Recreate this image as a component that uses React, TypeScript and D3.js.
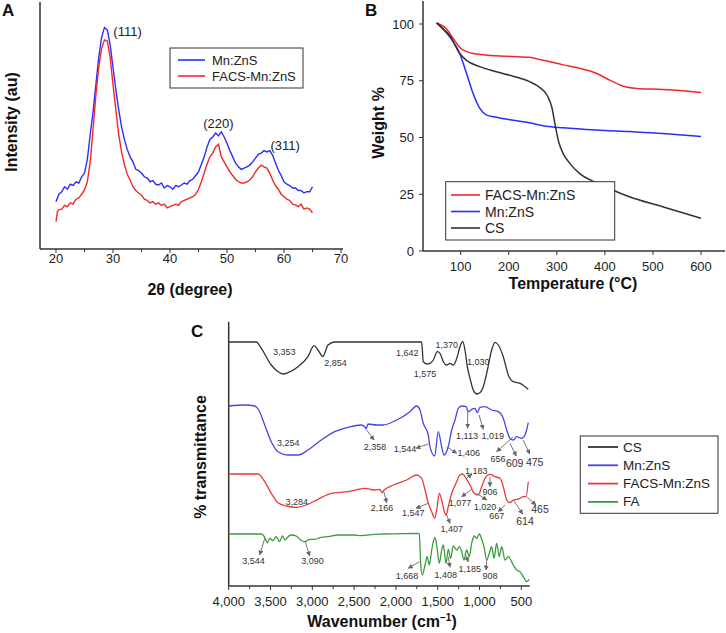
import React from 'react';
import * as d3 from 'd3';

type P = [number, number];

// ---------- Panel A : XRD ----------
const xrdTicks = [20, 30, 40, 50, 60, 70];
const xrdMinorTicks = [25, 35, 45, 55, 65];
const xrdMnZnS: P[] = [
  [20, 19], [20.5, 22], [21, 23], [21.5, 25], [22, 24], [22.5, 26], [23, 25.5], [23.5, 27], [24, 26.5], [24.5, 29],
  [25, 30.5], [25.5, 36], [26, 46], [26.5, 55], [27, 66], [27.5, 77], [28, 85], [28.5, 89], [29, 88], [29.5, 82],
  [30, 73], [30.5, 64], [31, 56], [31.5, 49], [32, 44], [32.5, 40], [33, 37], [33.5, 35], [34, 32], [34.5, 31.5],
  [35, 30.5], [35.5, 29], [36, 28.5], [36.5, 27], [37, 27.5], [37.5, 26], [38, 25.7], [38.5, 26.5], [39, 24.5], [39.5, 25.5],
  [40, 25], [40.5, 24], [41, 25.5], [41.5, 25], [42, 25.7], [42.5, 26.5], [43, 26], [43.5, 27.5], [44, 28], [44.5, 29.5],
  [45, 31], [45.5, 34], [46, 37], [46.5, 41], [47, 44], [47.5, 45], [48, 46.6], [48.5, 45.5], [49, 47], [49.5, 45],
  [50, 42.5], [50.5, 39.5], [51, 37], [51.5, 34.5], [52, 33], [52.5, 32], [53, 32.5], [53.5, 33], [54, 33.7], [54.5, 35],
  [55, 36.5], [55.5, 38], [56, 38.5], [56.5, 39.5], [57, 39], [57.5, 39.5], [58, 37.7], [58.5, 34.5], [59, 31.7], [59.5, 29.5],
  [60, 27], [60.5, 26], [61, 25.5], [61.5, 24.5], [62, 24.5], [62.5, 23.5], [63, 23.5], [63.5, 22.5], [64, 23], [64.5, 23], [65, 25],
];
const xrdFACS: P[] = [
  [20, 11], [20.25, 15], [20.5, 15.7], [21, 16], [21.5, 17.5], [22, 17], [22.5, 18.5], [23, 18], [23.5, 20], [24, 20.5], [24.5, 22],
  [25, 23.7], [25.5, 27], [26, 35], [26.5, 48], [27, 62], [27.5, 73], [28, 80.5], [28.5, 84], [29, 83.5], [29.5, 77],
  [30, 66], [30.5, 56], [31, 46], [31.5, 39], [32, 34], [32.5, 30], [33, 27.7], [33.5, 25], [34, 23.5], [34.5, 22.5],
  [35, 21.7], [35.5, 20], [36, 19.5], [36.5, 18.5], [37, 19], [37.5, 18], [38, 18.5], [38.5, 17.5], [39, 18], [39.5, 16.5],
  [40, 17], [40.5, 17.5], [41, 18], [41.5, 17.5], [42, 19], [42.5, 19.5], [43, 20], [43.5, 20.5], [44, 21], [44.5, 22],
  [45, 24], [45.5, 27], [46, 30.5], [46.5, 34], [47, 37], [47.5, 38.5], [48, 41], [48.5, 42], [49, 37], [49.5, 35],
  [50, 33], [50.5, 31], [51, 29.5], [51.5, 28], [52, 27], [52.5, 26.5], [53, 26.5], [53.5, 27], [54, 27.7], [54.5, 29],
  [55, 31], [55.5, 32.5], [56, 33.7], [56.5, 33], [57, 32.5], [57.5, 30.5], [58, 27.7], [58.5, 25.5], [59, 24], [59.5, 22],
  [60, 21], [60.5, 20], [61, 19.5], [61.5, 18], [62, 17.7], [62.5, 17], [63, 18], [63.5, 16], [64, 16.5], [64.5, 16], [65, 14.5],
];
const xrdPeaks: { label: string; x: number; y: number }[] = [
  { label: '(111)', x: 32.55, y: 87.3 },
  { label: '(220)', x: 48.5, y: 50.6 },
  { label: '(311)', x: 60.2, y: 41.4 },
];
const xrdLegend = ['Mn:ZnS', 'FACS-Mn:ZnS'];

// ---------- Panel B : TGA ----------
const tgaXTicks = [100, 200, 300, 400, 500, 600];
const tgaYTicks = [0, 25, 50, 75, 100];
const tgaFACS: P[] = [
  [50, 100.5], [60, 99.5], [70, 98], [84, 93.7], [100, 89.3], [126, 87], [174, 86], [243, 85.3], [264, 84.4], [285, 83.4],
  [313, 82], [347, 80.5], [382, 78.3], [410, 75.3], [437, 72.7], [472, 71.5], [520, 71.2], [562, 70.6], [600, 69.8],
];
const tgaMnZnS: P[] = [
  [50, 100.5], [60, 98.5], [77, 94.4], [98, 87], [112, 78.3], [125.6, 69.5], [139.5, 62.9], [153, 60], [174, 58.9],
  [243, 56.5], [278, 55], [313, 54.3], [382, 53.3], [451, 52.6], [520, 51.8], [600, 50.4],
];
const tgaCS: P[] = [
  [50, 100.5], [60, 98.5], [77, 95], [98, 87], [112, 84], [139.5, 81.2], [174, 79], [209, 77], [243, 74.6], [264, 72.1],
  [280, 68.5], [290, 63], [297, 55], [304, 48], [313, 43], [327, 38.6], [347, 34.2], [382, 30.1], [416, 26.9], [451, 23.9],
  [520, 19.5], [600, 14.4],
];
const tgaLegend = ['FACS-Mn:ZnS', 'Mn:ZnS', 'CS'];

// ---------- Panel C : FTIR ----------
const ftirMajorTicks = [4000, 3500, 3000, 2500, 2000, 1500, 1000, 500];
const ftirMinorTicks = [3750, 3250, 2750, 2250, 1750, 1250, 750];
const ftirCS: P[] = [
  [4000, 244], [3670, 244], [3610, 237.7], [3491, 221], [3410, 214.3], [3351, 212], [3291, 213.3], [3171, 219.3], [3052, 229.3],
  [2980, 240.3], [2932, 236], [2872, 229.3], [2852, 232.7], [2812, 241], [2732, 244], [1692, 244], [1673, 224.3], [1632, 222],
  [1593, 222.7], [1553, 226], [1505, 234.3], [1473, 232.7], [1433, 224.3], [1393, 221], [1353, 222.7], [1314, 221], [1266, 229.3],
  [1234, 239.3], [1201, 244.3], [1174, 236], [1146, 219.3], [1114, 207.7], [1075, 196], [1034, 192], [994, 193.3], [955, 199.3],
  [914, 212.7], [855, 236], [815, 243.7], [776, 241], [716, 229.3], [656, 211], [596, 204.3], [516, 202.7], [417, 196.7],
];
const ftirMnZnS: P[] = [
  [4000, 180], [3800, 181], [3689, 180], [3641, 176], [3562, 159.3], [3482, 142.7], [3410, 134.3], [3291, 131], [3171, 131],
  [3052, 136], [2893, 146], [2732, 154.3], [2573, 158.7], [2414, 161], [2373, 159.3], [2358, 157], [2334, 162], [2230, 161],
  [2155, 161], [1991, 166], [1832, 174.3], [1752, 180], [1712, 176], [1673, 162.7], [1613, 151], [1593, 139.3], [1537, 130],
  [1493, 154.3], [1453, 139.3], [1425, 131], [1374, 139.3], [1333, 156], [1293, 166], [1254, 177.7], [1213, 180], [1162, 179.3],
  [1134, 174.3], [1094, 176.7], [1054, 177.7], [1027, 173.3], [994, 178.7], [935, 179.3], [855, 176], [776, 174.3], [716, 167.7],
  [675, 156], [636, 147.7], [596, 146], [556, 149.3], [496, 147.7], [456, 151], [417, 163.3],
];
const ftirFACS: P[] = [
  [4000, 112], [3650, 112], [3569, 104.3], [3491, 92.7], [3410, 83.3], [3311, 80], [3192, 78.7], [3072, 81], [2932, 86.7],
  [2773, 92.7], [2573, 94.3], [2373, 97.7], [2254, 96], [2190, 96.7], [2166, 93.5], [2140, 96], [2031, 101], [1871, 106],
  [1752, 111], [1692, 107.7], [1652, 96], [1613, 82.7], [1572, 74.3], [1537, 67.7], [1512, 76], [1481, 92.7], [1453, 86],
  [1421, 74.3], [1401, 71], [1374, 79.3], [1333, 92.7], [1282, 102.7], [1234, 111], [1201, 112], [1162, 107.7], [1114, 101],
  [1063, 92.7], [1015, 91], [974, 99.3], [935, 107.7], [875, 111.7], [815, 109.3], [755, 107.7], [716, 99.3], [675, 86],
  [636, 83.3], [596, 86], [556, 86.7], [516, 87.7], [477, 89.3], [444, 89.3], [417, 104.3],
];
const ftirFA: P[] = [
  [4000, 52], [3610, 52], [3569, 48.7], [3538, 43.3], [3510, 47.7], [3470, 45.3], [3431, 49.3], [3390, 44.3], [3359, 50],
  [3323, 46], [3291, 49.3], [3251, 51], [3192, 50], [3139, 46], [3091, 44.3], [3031, 46.7], [2971, 46.7], [2892, 48.7],
  [2812, 49.3], [2693, 51], [2493, 51], [2414, 50.3], [2254, 51.7], [2155, 52], [1720, 52.7], [1704, 22.7], [1685, 11],
  [1652, 21], [1625, 29.3], [1601, 21], [1572, 36], [1553, 44.3], [1533, 48.7], [1505, 36], [1481, 22.7], [1453, 36],
  [1433, 41], [1401, 22.7], [1374, 36.7], [1345, 27.7], [1314, 40], [1273, 36], [1242, 39.3], [1213, 34.3], [1186, 26],
  [1154, 36], [1122, 29.3], [1094, 42.7], [1063, 50], [1034, 47.7], [1003, 52], [974, 46.7], [947, 39.3], [914, 26],
  [883, 32.7], [855, 39.3], [827, 27.7], [795, 42.7], [764, 29.3], [735, 39.3], [695, 26], [656, 29.3], [596, 21],
  [556, 16], [516, 14.3], [477, 9.3], [436, 4.3], [405, 6.7],
];
const ftirLegend = ['CS', 'Mn:ZnS', 'FACS-Mn:ZnS', 'FA'];

// annotations: label, label position (wavenumber, value), optional arrow from -> to
type Ann = { t: string; x: number; y: number; big?: boolean; a?: [number, number, number, number] };
const ftirAnnotations: Ann[] = [
  { t: '3,353', x: 3335, y: 233.7 },
  { t: '2,854', x: 2723, y: 223.3 },
  { t: '1,642', x: 1864, y: 233.3 },
  { t: '1,575', x: 1652, y: 212 },
  { t: '1,370', x: 1393, y: 241 },
  { t: '1,030', x: 1015, y: 224.3 },
  { t: '3,254', x: 3287, y: 143.3 },
  { t: '2,358', x: 2250, y: 139.3, a: [2350, 156, 2262, 146] },
  { t: '1,544', x: 1891, y: 136.7, a: [1613, 142, 1760, 137.7] },
  { t: '1,406', x: 1130, y: 132.7, a: [1393, 139.3, 1273, 132.7] },
  { t: '1,113', x: 1150, y: 150, a: [1142, 174.3, 1142, 157.7] },
  { t: '1,019', x: 843, y: 150, a: [1006, 171, 955, 156.7] },
  { t: '656', x: 780, y: 126.7, a: [596, 149.3, 795, 134.3] },
  { t: '609', x: 580, y: 123.3, big: true, a: [636, 142.7, 560, 130] },
  { t: '475', x: 340, y: 124.3, big: true, a: [477, 146, 400, 132] },
  { t: '3,284', x: 3187, y: 84.3 },
  { t: '2,166', x: 2167, y: 78, a: [2151, 96, 2110, 83.3] },
  { t: '1,547', x: 1792, y: 72.7, a: [1613, 82.7, 1760, 77.7] },
  { t: '1,407', x: 1333, y: 56.7, a: [1393, 71, 1353, 62.7] },
  { t: '1,183', x: 1039, y: 115.3, a: [1162, 107, 1094, 112] },
  { t: '906', x: 875, y: 94.3, a: [875, 109.3, 875, 99.3] },
  { t: '1,077', x: 1234, y: 82.7, a: [1094, 96.7, 1213, 89.3] },
  { t: '1,020', x: 935, y: 78.7, a: [1034, 92.7, 914, 86] },
  { t: '667', x: 795, y: 70.3, a: [695, 81, 776, 74.3] },
  { t: '614', x: 456, y: 65.3, big: true, a: [596, 86, 484, 72] },
  { t: '465', x: 277, y: 76.7, big: true, a: [436, 89.3, 325, 81] },
  { t: '3,544', x: 3703, y: 25, a: [3569, 47.7, 3629, 31] },
  { t: '3,090', x: 2998, y: 25, a: [3084, 44.3, 3031, 30] },
  { t: '1,668', x: 1868, y: 10, a: [1720, 24.3, 1852, 17.7] },
  { t: '1,408', x: 1403, y: 11, a: [1374, 29.3, 1353, 18.7] },
  { t: '1,185', x: 1118, y: 16.7, a: [1174, 32.7, 1134, 24.3] },
  { t: '908', x: 875, y: 10, a: [914, 26, 922, 16] },
];

const FONT = '"Liberation Sans", Arial, Helvetica, sans-serif';
const AX = '#333';
const BLUE = '#2b2bff';
const RED = '#f02828';
const BLACK = '#333333';
const GREEN = '#3c9a3c';
const C_BLUE = '#4646e6';
const C_RED = '#e83a3a';

export default function App() {
  // Panel A scales
  const xA = d3.scaleLinear().domain([20, 70]).range([56, 341]);
  const yA = d3.scaleLinear().domain([0, 100]).range([249, 0]);
  const lineA = d3.line<P>().x((d) => xA(d[0])).y((d) => yA(d[1])).curve(d3.curveLinear);

  // Panel B scales
  const xB = d3.scaleLinear().domain([100, 600]).range([460.7, 701]);
  const yB = d3.scaleLinear().domain([0, 100]).range([251, 24]);
  const lineB = d3.line<P>().x((d) => xB(d[0])).y((d) => yB(d[1])).curve(d3.curveMonotoneX);

  // Panel C scales
  const xC = d3.scaleLinear().domain([4000, 400]).range([228.7, 529.7]);
  const yC = d3.scaleLinear().domain([0, 264.3]).range([586, 321.7]);
  const lineC = d3.line<P>().x((d) => xC(d[0])).y((d) => yC(d[1])).curve(d3.curveMonotoneX);

  const tgaSeries = [
    { name: tgaLegend[0], data: tgaFACS, color: RED },
    { name: tgaLegend[1], data: tgaMnZnS, color: BLUE },
    { name: tgaLegend[2], data: tgaCS, color: BLACK },
  ];
  const ftirSeries = [
    { name: ftirLegend[0], data: ftirCS, color: BLACK },
    { name: ftirLegend[1], data: ftirMnZnS, color: C_BLUE },
    { name: ftirLegend[2], data: ftirFACS, color: C_RED },
    { name: ftirLegend[3], data: ftirFA, color: GREEN },
  ];

  return (
    <svg width={726} height={633} style={{ position: 'absolute', left: 0, top: 0, background: '#fff' }} fontFamily={FONT}>
      <defs>
        <marker id="arr" viewBox="0 0 10 10" refX="9" refY="5" markerWidth="5" markerHeight="5" orient="auto">
          <path d="M0,0 L10,5 L0,10 z" fill="#666" />
        </marker>
      </defs>
      <rect x={0} y={0} width={726} height={633} fill="#fff" />

      {/* ================= Panel A ================= */}
      <g>
        <text x={2} y={16} fontSize={17} fontWeight="bold" fill="#111">A</text>
        <line x1={40} x2={40} y1={2} y2={yA(0)} stroke={AX} strokeWidth={1.5} />
        <line x1={40} x2={343} y1={yA(0)} y2={yA(0)} stroke={AX} strokeWidth={1.5} />
        {xrdTicks.map((t) => (
          <g key={t}>
            <line x1={xA(t)} x2={xA(t)} y1={yA(0)} y2={yA(0) + 4} stroke={AX} strokeWidth={1} />
            <text x={xA(t)} y={263} fontSize={13} textAnchor="middle" fill="#222">{t}</text>
          </g>
        ))}
        {xrdMinorTicks.map((t) => (
          <line key={t} x1={xA(t)} x2={xA(t)} y1={yA(0)} y2={yA(0) + 3} stroke={AX} strokeWidth={1} />
        ))}
        <path d={lineA(xrdMnZnS) || ''} fill="none" stroke={BLUE} strokeWidth={1.4} />
        <path d={lineA(xrdFACS) || ''} fill="none" stroke={RED} strokeWidth={1.4} />
        {xrdPeaks.map((p) => (
          <text key={p.label} x={xA(p.x)} y={yA(p.y)} fontSize={13} textAnchor="middle" dominantBaseline="central" fill="#222">{p.label}</text>
        ))}
        <rect x={170} y={48} width={133} height={40} fill="#fff" stroke={AX} strokeWidth={1} />
        {xrdLegend.map((n, i) => (
          <g key={n}>
            <line x1={178} x2={205} y1={60 + i * 16} y2={60 + i * 16} stroke={i === 0 ? BLUE : RED} strokeWidth={1.6} />
            <text x={212} y={60 + i * 16} fontSize={13} dominantBaseline="central" fill="#222">{n}</text>
          </g>
        ))}
        <text transform="translate(11,122) rotate(-90)" fontSize={16} fontWeight="bold" textAnchor="middle" dominantBaseline="central" fill="#111">Intensity (au)</text>
        <text x={190} y={295} fontSize={16} fontWeight="bold" textAnchor="middle" fill="#111">2θ (degree)</text>
      </g>

      {/* ================= Panel B ================= */}
      <g>
        <text x={365} y={16} fontSize={17} fontWeight="bold" fill="#111">B</text>
        <line x1={423} x2={423} y1={1} y2={yB(0)} stroke={AX} strokeWidth={1.5} />
        <line x1={423} x2={725} y1={yB(0)} y2={yB(0)} stroke={AX} strokeWidth={1.5} />
        {tgaYTicks.map((t) => (
          <g key={t}>
            <line x1={419} x2={423} y1={yB(t)} y2={yB(t)} stroke={AX} strokeWidth={1} />
            <text x={414} y={yB(t)} fontSize={13} textAnchor="end" dominantBaseline="central" fill="#222">{t}</text>
          </g>
        ))}
        {tgaXTicks.map((t) => (
          <g key={t}>
            <line x1={xB(t)} x2={xB(t)} y1={yB(0)} y2={yB(0) + 4} stroke={AX} strokeWidth={1} />
            <text x={xB(t)} y={271} fontSize={13} textAnchor="middle" fill="#222">{t}</text>
          </g>
        ))}
        {tgaSeries.map((s) => (
          <path key={s.name} d={lineB(s.data) || ''} fill="none" stroke={s.color} strokeWidth={1.5} />
        ))}
        <rect x={445.7} y={181.7} width={169} height={58.3} fill="#fff" stroke={AX} strokeWidth={1} />
        {tgaSeries.map((s, i) => (
          <g key={s.name}>
            <line x1={451} x2={480} y1={195 + i * 16.5} y2={195 + i * 16.5} stroke={s.color} strokeWidth={1.6} />
            <text x={485} y={195 + i * 16.5} fontSize={14} dominantBaseline="central" fill="#222">{s.name}</text>
          </g>
        ))}
        <text transform="translate(378,123) rotate(-90)" fontSize={16} fontWeight="bold" textAnchor="middle" dominantBaseline="central" fill="#111">Weight %</text>
        <text x={573} y={289} fontSize={16} fontWeight="bold" textAnchor="middle" fill="#111">Temperature (°C)</text>
      </g>

      {/* ================= Panel C ================= */}
      <g>
        <text x={191} y={337} fontSize={17} fontWeight="bold" fill="#111">C</text>
        <line x1={xC(4000)} x2={xC(4000)} y1={321.7} y2={yC(0)} stroke={AX} strokeWidth={1.5} />
        <line x1={xC(4000)} x2={xC(400)} y1={yC(0)} y2={yC(0)} stroke={AX} strokeWidth={1.5} />
        {ftirMajorTicks.map((t) => (
          <g key={t}>
            <line x1={xC(t)} x2={xC(t)} y1={yC(0)} y2={yC(0) + 4} stroke={AX} strokeWidth={1} />
            <text x={xC(t)} y={606} fontSize={13} textAnchor="middle" fill="#222">{d3.format(',')(t)}</text>
          </g>
        ))}
        {ftirMinorTicks.map((t) => (
          <line key={t} x1={xC(t)} x2={xC(t)} y1={yC(0)} y2={yC(0) + 3} stroke={AX} strokeWidth={1} />
        ))}
        {ftirSeries.map((s) => (
          <path key={s.name} d={lineC(s.data) || ''} fill="none" stroke={s.color} strokeWidth={1.3} />
        ))}
        {ftirAnnotations.map((a, i) => (
          <g key={i}>
            {a.a && (
              <line x1={xC(a.a[0])} y1={yC(a.a[1])} x2={xC(a.a[2])} y2={yC(a.a[3])} stroke="#777" strokeWidth={1} markerEnd="url(#arr)" />
            )}
            <text x={xC(a.x)} y={yC(a.y)} fontSize={a.big ? 10.5 : 9} textAnchor="middle" dominantBaseline="central" fill="#333">{a.t}</text>
          </g>
        ))}
        <rect x={580.3} y={436} width={137.7} height={77.3} fill="#fff" stroke={AX} strokeWidth={1} />
        {ftirSeries.map((s, i) => (
          <g key={s.name}>
            <line x1={588} x2={618} y1={447 + i * 18.3} y2={447 + i * 18.3} stroke={s.color} strokeWidth={1.8} />
            <text x={623} y={447 + i * 18.3} fontSize={13.5} dominantBaseline="central" fill="#222">{s.name}</text>
          </g>
        ))}
        <text transform="translate(200,457) rotate(-90)" fontSize={16} fontWeight="bold" textAnchor="middle" dominantBaseline="central" fill="#111">% transmittance</text>
        <text x={382} y={627} fontSize={16} fontWeight="bold" textAnchor="middle" fill="#111">
          Wavenumber (cm<tspan fontSize={10} dy={-6}>−1</tspan><tspan dy={6}>)</tspan>
        </text>
      </g>
    </svg>
  );
}
